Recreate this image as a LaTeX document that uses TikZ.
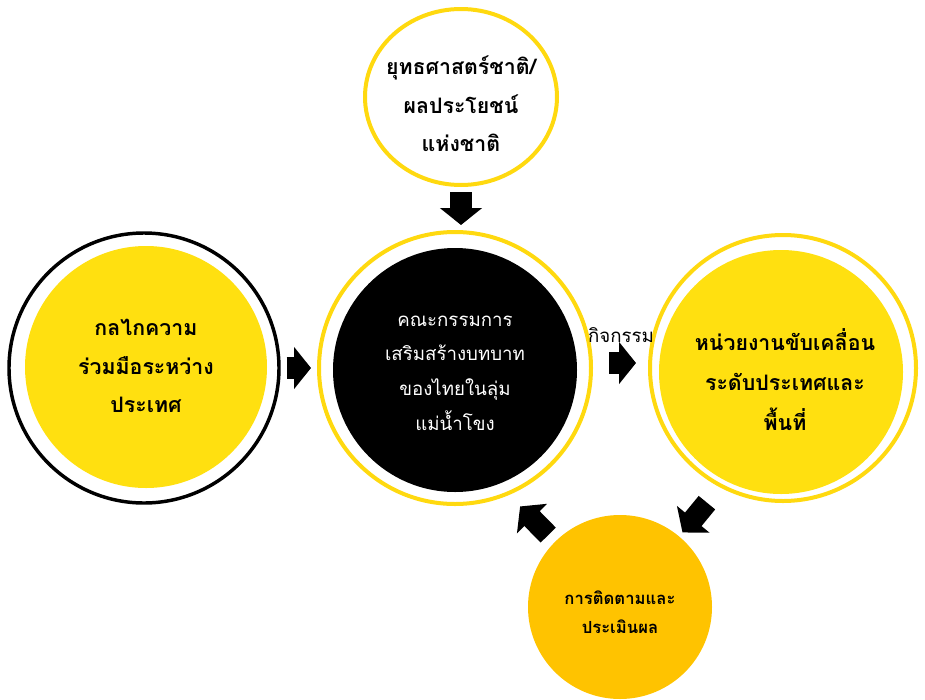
\documentclass[tikz,border=0pt]{standalone}
\usepackage{fontspec}
\usepackage{tikz}
\usetikzlibrary{arrows.meta,shapes.geometric}
\newfontfamily\thaifont[Script=Thai]{Loma}

\definecolor{ringyellow}{HTML}{FFD90F}
\definecolor{discyellow}{HTML}{FFE010}
\definecolor{evalorange}{HTML}{FFC300}

\tikzset{
  ring/.style={circle,draw=ringyellow,line width=3pt,fill=white,inner sep=0pt},
  disc/.style={circle,draw=none,inner sep=0pt},
  lbl/.style={align=center,inner sep=0pt,font=\thaifont\bfseries\fontsize{16pt}{29pt}\selectfont},
  blockarrow/.style={line width=16pt,-{Triangle[length=12.75pt,width=31pt]}}
}

\begin{document}
\begin{tikzpicture}[x=0.75pt,y=0.75pt,yscale=-1]
\useasboundingbox (0,0) rectangle (925,700);

%Shape: Ellipse (top)
\node [ring,ellipse,minimum width=144pt,minimum height=132pt] (strat) at (461,97) {};
% Text Node
\node [lbl] (stratlbl) at (461,104) {ยุทธศาสตร์ชาติ/\\ผลประโยชน์\\แห่งชาติ};

%Shape: Circle (left)
\node [ring,draw=black,line width=2.6pt,minimum size=202.5pt] (mech) at (144,368) {};
\node [disc,fill=discyellow,minimum size=181.5pt] (mechin) at (146,367) {};
% Text Node
\node [lbl] (mechlbl) at (146,366) {กลไกความ\\ร่วมมือระหว่าง\\ประเทศ};

%Shape: Circle (centre)
\node [ring,minimum size=204pt] (comm) at (455,368) {};
\node [disc,fill=black,minimum size=183pt] (commin) at (455,370) {};
% Text Node
\node [lbl,text=white,font=\thaifont\fontsize{14pt}{26pt}\selectfont] (commlbl) at (455,373) {คณะกรรมการ\\เสริมสร้างบทบาท\\ของไทยในลุ่ม\\แม่น้ำโขง};

%Shape: Circle (right)
\node [ring,minimum size=199.5pt] (drive) at (783,368) {};
\node [disc,fill=discyellow,minimum size=183pt] (drivein) at (781,372) {};
% Text Node
\node [lbl,font=\thaifont\bfseries\fontsize{16pt}{30pt}\selectfont] (drivelbl) at (785,380) {หน่วยงานขับเคลื่อน\\ระดับประเทศและ\\พื้นที่};

%Shape: Circle (bottom)
\node [disc,fill=evalorange,minimum size=138pt] (eval) at (620,607) {};
% Text Node
\node [lbl,font=\thaifont\bfseries\fontsize{12.5pt}{22pt}\selectfont] (evallbl) at (620,612) {การติดตามและ\\ประเมินผล};

% Text Node
\node [lbl,font=\thaifont\fontsize{14pt}{20pt}\selectfont] (act) at (621,335) {กิจกรรม};

%Block Arrows
\draw [blockarrow,shorten <=3.75pt,shorten >=3.75pt] (strat.south) -- (strat.south |- comm.north);
\draw [blockarrow,shorten <=4.5pt,shorten >=4.5pt] (mech) -- (comm);
\draw [blockarrow,shorten <=12pt,shorten >=9pt] ([yshift=-3.75pt]comm.east) -- ([yshift=-3.75pt]drive.west);
\draw [blockarrow,shorten <=15pt,shorten >=3.75pt] (drive.-118) -- (eval.50);
\draw [blockarrow,shorten <=7pt,shorten >=12pt] (eval.135) -- (comm.-67);

\end{tikzpicture}
\end{document}
